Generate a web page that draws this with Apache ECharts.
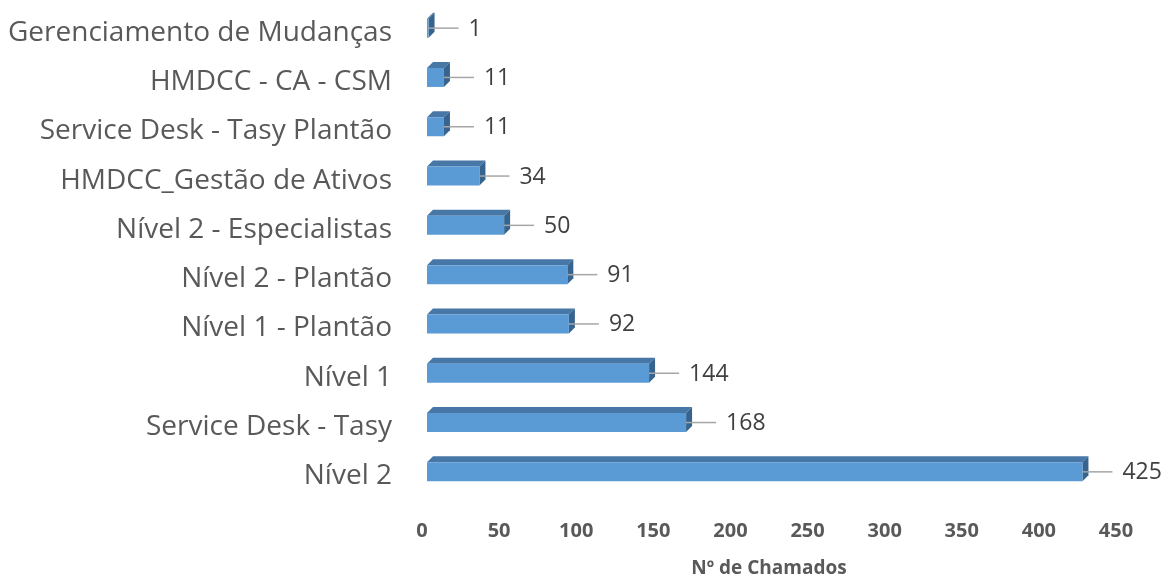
<!DOCTYPE html>
<html>
<head>
<meta charset="utf-8">
<script src="https://cdn.jsdelivr.net/npm/echarts@6/dist/echarts.min.js"></script>
<style>
html,body{margin:0;padding:0;background:#fff;}
#chart{width:1167px;height:581px;}
</style>
</head>
<body>
<div id="chart"></div>
<script>
var categories = ["Nível 2", "Service Desk - Tasy", "Nível 1", "Nível 1 - Plantão", "Nível 2 - Plantão", "Nível 2 - Especialistas", "HMDCC_Gestão de Ativos", "Service Desk - Tasy Plantão", "HMDCC - CA - CSM", "Gerenciamento de Mudanças"];
var values = [425, 168, 144, 92, 91, 50, 34, 11, 11, 1];
var xTicks = [0, 50, 100, 150, 200, 250, 300, 350, 400, 450];

var chart = echarts.init(document.getElementById('chart'));
var FONT = '"Open Sans", sans-serif';
var DX = 6, DY = 6;

function renderItem(params, api) {
  var v = api.value(1);
  var c = api.value(0);
  var p0 = api.coord([0, c]);
  var p1 = api.coord([v, c]);
  var cy = p0[1];
  var xl = p0[0] + 5;
  var xr = p1[0] + 5;
  var ft = cy - 14, fb = cy + 5;
  var lineY = (ft + fb) / 2;
  return {
    type: 'group',
    children: [
      { type: 'polygon', shape: { points: [[xl, ft], [xl + DX, ft - DY], [xr + DX, ft - DY], [xr, ft]] },
        style: { fill: '#4677A6', stroke: null } },
      { type: 'polygon', shape: { points: [[xr, ft], [xr + DX, ft - DY], [xr + DX, fb - DY], [xr, fb]] },
        style: { fill: '#36648F', stroke: null } },
      { type: 'rect', shape: { x: xl, y: ft, width: xr - xl, height: fb - ft },
        style: { fill: '#5B9BD5', stroke: null } },
      { type: 'line', shape: { x1: xr, y1: lineY, x2: xr + 30, y2: lineY },
        style: { stroke: '#A6A6A6', lineWidth: 1.5 } },
      { type: 'text', x: xr + 40, y: lineY + 1,
        style: { text: String(v), fill: '#404040', font: '23px ' + FONT, textVerticalAlign: 'middle', textAlign: 'left', verticalAlign: 'middle', align: 'left' } }
    ]
  };
}

chart.setOption({
  animation: false,
  backgroundColor: '#fff',
  grid: { left: 422, right: 51, top: 8, bottom: 80, containLabel: false, outerBoundsMode: 'none' },
  xAxis: {
    type: 'value', min: 0, max: 450, interval: 50,
    axisLine: { show: false }, axisTick: { show: false }, splitLine: { show: false },
    axisLabel: { margin: 20, color: '#595959', fontSize: 20, fontWeight: 'bold', fontFamily: FONT,
      formatter: function (v) { return xTicks.indexOf(v) >= 0 ? String(v) : ''; } },
    name: 'Nº de Chamados', nameLocation: 'middle', nameGap: 58,
    nameTextStyle: { color: '#595959', fontSize: 19, fontWeight: 'bold', fontFamily: FONT }
  },
  yAxis: {
    type: 'category', data: categories,
    axisLine: { show: false }, axisTick: { show: false },
    axisLabel: { margin: 30, color: '#595959', fontSize: 28, fontFamily: FONT }
  },
  series: [{
    type: 'custom',
    renderItem: renderItem,
    encode: { x: 1, y: 0 },
    data: values.map(function (v, i) { return [i, v]; })
  }]
});
</script>
</body>
</html>
